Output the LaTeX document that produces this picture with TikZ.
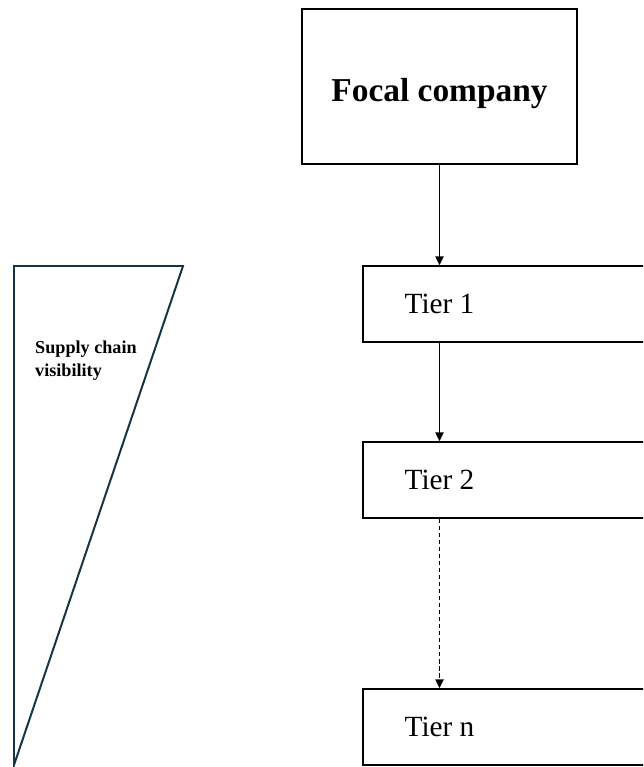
\documentclass[tikz,border=0pt]{standalone}
\usepackage{fontspec}
\setmainfont{Liberation Serif}
\usetikzlibrary{positioning,calc,arrows.meta}
\definecolor{navy}{RGB}{22,52,70}

\begin{document}
\begin{tikzpicture}[x=0.03cm, y=-0.03cm,
  box/.style={draw, line width=1.4pt, rectangle, inner sep=0pt},
  tierbox/.style={box, minimum width=360*0.03cm, minimum height=76*0.03cm, anchor=west},
  tiertext/.style={font=\fontsize{25}{30}\selectfont},
  link/.style={line width=1.2pt, -{Triangle[length=7.5pt,width=7pt]}}]
\path[use as bounding box, clip] (0,0) rectangle (643,767);
\node[box, minimum width=275*0.03cm, minimum height=155*0.03cm] (fc) at (439.5,86.5) {};
\node[font=\fontsize{28.5}{34}\selectfont\bfseries] (fctxt) at ([yshift=-6pt]fc.center) {Focal company};
\node[tierbox] (t1) at (362,304) {};
\node[tierbox] (t2) at (362,480) {};
\node[tierbox] (tn) at (362,727) {};
\node[tiertext] (t1txt) at (fc |- t1) {Tier 1};
\node[tiertext] (t2txt) at (fc |- t2) {Tier 2};
\node[tiertext] (tntxt) at (fc |- tn) {Tier n};
\draw[link] (fc.south) -- (fc |- t1.north);
\draw[link] (fc |- t1.south) -- (fc |- t2.north);
\draw[link, dash pattern=on 3.5pt off 2.5pt] (fc |- t2.south) -- (fc |- tn.north);
\draw[navy, line width=1.7pt, line join=miter] (14,266) -- (183,266) -- (14,765) -- cycle;
\node[anchor=north west, align=left, inner sep=0pt,
      font=\fontsize{15.5}{19}\selectfont\bfseries] (vis) at (35,341) {Supply chain\\visibility};
\end{tikzpicture}
\end{document}
